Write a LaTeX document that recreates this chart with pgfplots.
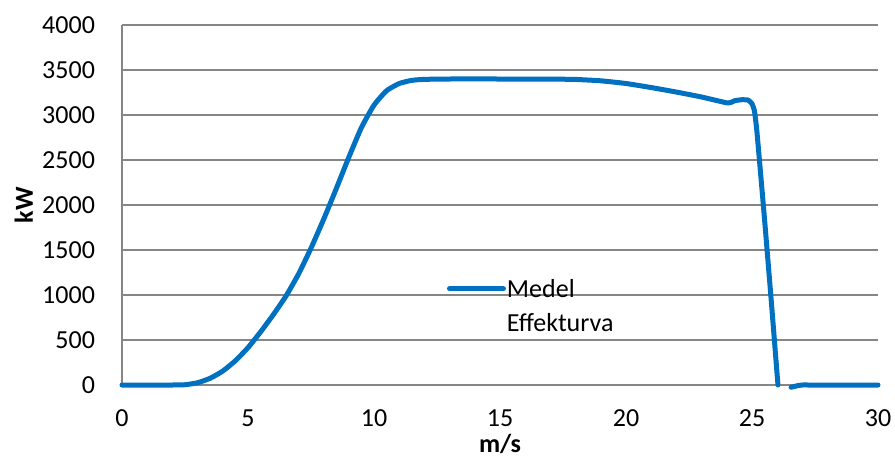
\documentclass[border=0pt]{standalone}
\usepackage{fontspec}
\setmainfont{Carlito}
\usepackage{pgfplots}
\pgfplotsset{compat=1.18}
\usetikzlibrary{calc}
\definecolor{excelblue}{RGB}{0,112,192}
\definecolor{gridgray}{RGB}{134,134,134}
\begin{document}
\fontsize{13}{15.6}\selectfont
\begin{tikzpicture}
\begin{axis}[
  scale only axis, width=378pt, height=180pt,
  xmin=0, xmax=30, ymin=0, ymax=4000,
  xtick={0,5,...,30}, ytick={0,500,...,4000},
  axis x line*=bottom, axis y line*=left,
  x axis line style={draw=none, -}, y axis line style={gridgray, line width=0.8pt, -},
  ymajorgrids, grid style={gridgray, line width=0.8pt},
  major tick length=0pt,
  /pgf/number format/assume math mode=true,
  /pgf/number format/1000 sep={},
  ticklabel style={font=\fontsize{13}{15.6}\selectfont},
  yticklabel style={xshift=-9pt},
  xticklabel style={yshift=-8pt},
  every axis y label/.style={at={(axis description cs:-0.13,0.5)}, anchor=center, rotate=90, font=\fontsize{13}{15.6}\selectfont\bfseries},
  every axis x label/.style={at={(axis description cs:0.5,-0.163)}, anchor=center, font=\fontsize{13}{15.6}\selectfont\bfseries},
  xlabel={m/s}, ylabel={kW},
  clip=false,
  unbounded coords=jump,
  legend image code/.code={\draw[#1, line cap=round] (0pt,0pt) -- (27pt,0pt);},
  legend style={draw=none, fill=none, at={(axis cs:12.88,1260)}, anchor=north west, inner sep=0pt, font=\fontsize{13}{15.6}\selectfont, nodes={inner sep=2pt}},
  legend cell align=left,
]
\addplot[excelblue, line width=2.5pt, line join=round, line cap=round, smooth, tension=0.3] coordinates {
(0,0) (1,0) (2,0) (2.5,3) (3,25) (3.5,75) (4,155) (4.5,270) (5,415) (5.5,590) (6,780)
(6.5,985) (7,1230) (7.5,1520) (8,1840) (8.5,2180) (9,2530) (9.5,2860) (10,3110)
(10.5,3270) (11,3350) (11.5,3385) (12,3396) (13,3400)
(15,3400) (17,3399) (18,3395) (19,3380) (20,3350) (21,3305)
(22,3255) (23,3200) (24.05,3133) (24.3,3158) (24.6,3170) (24.85,3165) (25.0,3125)
(25.1,3040) (25.2,2800) (25.48,1900) (25.76,950) (26.03,0) (26.3,nan) (26.55,-25) (26.85,-5) (27,0) (27.3,0) (30,0)
};
\addlegendentry{\hspace{-1.5pt}\begin{tabular}[t]{@{}l@{}}Medel\\[1.2pt]Effekturva\end{tabular}}
\end{axis}
\pgfresetboundingbox
\path ($(current axis.south west)+(-61pt,-35.5pt)$) rectangle ($(current axis.north east)+(8.5pt,12.5pt)$);
\end{tikzpicture}
\end{document}
